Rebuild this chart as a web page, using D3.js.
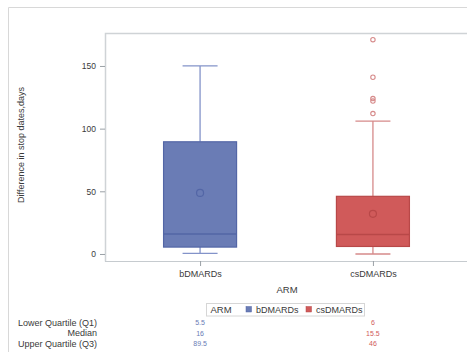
<!DOCTYPE html>
<html><head><meta charset="utf-8">
<script src="https://cdn.jsdelivr.net/npm/d3@7"></script>
<style>
html,body{margin:0;padding:0;background:#fff;}
svg{display:block;font-family:"Liberation Sans",Arial,sans-serif;}
</style></head>
<body>
<script>
const categories = ["bDMARDs", "csDMARDs"];
const q1 = [5.5, 6];
const medians = [16, 15.5];
const q3 = [89.5, 46];
const whiskerLow = [0.5, 0];
const whiskerHigh = [150, 106];
const means = [48.7, 32];
const outliers = [[], [171, 141, 124, 122, 112]];
const yTicks = [0, 50, 100, 150];
const tableRows = ["Lower Quartile (Q1)", "Median", "Upper Quartile (Q3)"];
const tableValues = [q1, medians, q3];
const fills = ["#6a7cb5", "#d05a5a"];
const strokes = ["#5366a6", "#b84848"];
const whiskerColors = ["#8393c9", "#d68a8a"];

const W = 467, H = 355;
const svg = d3.select("body").append("svg").attr("width", W).attr("height", H);

// outer frame
svg.append("path").attr("d", "M8.5,352 V7.5 H467").attr("fill", "none").attr("stroke", "#d8d8d8").attr("stroke-width", 1);

const pLeft = 105, pTop = 33, pBottom = 261, pRight = 468;
const x = d3.scalePoint().domain(categories).range([pLeft, pRight]).padding(0.55);
const y = d3.scaleLinear().domain([-5.6, 176.3]).range([pBottom, pTop]);

// plot frame
svg.append("path").attr("d", `M${pLeft+0.5},${pBottom+0.5} V${pTop+0.5} H${W}`).attr("fill", "none").attr("stroke", "#cfd3d6").attr("stroke-width", 1.5);
svg.append("line").attr("x1", pLeft).attr("x2", W).attr("y1", pBottom + 0.5).attr("y2", pBottom + 0.5).attr("stroke", "#c6cbcf").attr("stroke-width", 1.2);

// y axis
const yAxis = svg.append("g").attr("transform", `translate(${pLeft},0)`)
  .call(d3.axisLeft(y).tickValues(yTicks).tickSize(5).tickPadding(4));
yAxis.select(".domain").remove();
yAxis.selectAll(".tick line").attr("stroke", "#9aa0a6");
yAxis.selectAll(".tick text").attr("fill", "#3a3a3a").style("font-size", "8.5px").style("font-family", "Liberation Sans, Arial, sans-serif");

// x axis
const xAxis = svg.append("g").attr("transform", `translate(0,${pBottom})`)
  .call(d3.axisBottom(x).tickSize(5).tickPadding(5));
xAxis.select(".domain").remove();
xAxis.selectAll(".tick line").attr("stroke", "#9aa0a6");
xAxis.selectAll(".tick text").attr("fill", "#3a3a3a").style("font-size", "9px").style("font-family", "Liberation Sans, Arial, sans-serif");

// axis titles
svg.append("text").attr("x", 287).attr("y", 292.5).attr("text-anchor", "middle")
  .attr("fill", "#3a3a3a").style("font-size", "9.5px").text("ARM");
svg.append("text").attr("transform", "translate(23.5,145) rotate(-90)").attr("text-anchor", "middle")
  .attr("fill", "#3a3a3a").style("font-size", "9px").text("Difference in stop dates,days");

const boxW = 73, capW = 35;
categories.forEach((c, i) => {
  const cx = x(c);
  const g = svg.append("g");
  g.append("line").attr("x1", cx).attr("x2", cx).attr("y1", y(q3[i])).attr("y2", y(whiskerHigh[i])).attr("stroke", whiskerColors[i]).attr("stroke-width", 1.3);
  g.append("line").attr("x1", cx).attr("x2", cx).attr("y1", y(q1[i])).attr("y2", y(whiskerLow[i])).attr("stroke", whiskerColors[i]).attr("stroke-width", 1.3);
  g.append("line").attr("x1", cx - capW/2).attr("x2", cx + capW/2).attr("y1", y(whiskerHigh[i])).attr("y2", y(whiskerHigh[i])).attr("stroke", whiskerColors[i]).attr("stroke-width", 1.3);
  g.append("line").attr("x1", cx - capW/2).attr("x2", cx + capW/2).attr("y1", y(whiskerLow[i])).attr("y2", y(whiskerLow[i])).attr("stroke", whiskerColors[i]).attr("stroke-width", 1.3);
  g.append("rect").attr("x", cx - boxW/2).attr("y", y(q3[i])).attr("width", boxW).attr("height", y(q1[i]) - y(q3[i]))
    .attr("fill", fills[i]).attr("stroke", strokes[i]).attr("stroke-width", 1.2);
  g.append("line").attr("x1", cx - boxW/2).attr("x2", cx + boxW/2).attr("y1", y(medians[i])).attr("y2", y(medians[i])).attr("stroke", strokes[i]).attr("stroke-width", 1.5);
  g.append("circle").attr("cx", cx).attr("cy", y(means[i])).attr("r", 3.5).attr("fill", "none").attr("stroke", strokes[i]).attr("stroke-width", 1.2);
  outliers[i].forEach(v => {
    g.append("circle").attr("cx", cx).attr("cy", y(v)).attr("r", 2.2).attr("fill", "none").attr("stroke", whiskerColors[i]).attr("stroke-width", 1.1);
  });
});

// legend
const lg = svg.append("g");
lg.append("rect").attr("x", 206.5).attr("y", 303.5).attr("width", 158).attr("height", 12.5).attr("fill", "#fff").attr("stroke", "#d6d6d6");
lg.append("text").attr("x", 210.5).attr("y", 313).attr("fill", "#3a3a3a").style("font-size", "9.5px").text("ARM");
const legX = [246, 306];
categories.forEach((c, i) => {
  lg.append("rect").attr("x", legX[i]).attr("y", 306.5).attr("width", 5.5).attr("height", 5.5).attr("fill", fills[i]).attr("stroke", strokes[i]).attr("stroke-width", 0.5);
  lg.append("text").attr("x", legX[i] + 10).attr("y", 313).attr("fill", "#3a3a3a").style("font-size", "9px").text(c);
});

// table
tableRows.forEach((r, j) => {
  const ty = 325.5 + j * 10.7;
  svg.append("text").attr("x", 97).attr("y", ty).attr("text-anchor", "end").attr("fill", "#3a3a3a").style("font-size", "9px").text(r);
  categories.forEach((c, i) => {
    svg.append("text").attr("x", x(c)).attr("y", ty - 0.5).attr("text-anchor", "middle").attr("fill", fills[i]).style("font-size", "7px").text(tableValues[j][i]);
  });
});
</script>
</body></html>
